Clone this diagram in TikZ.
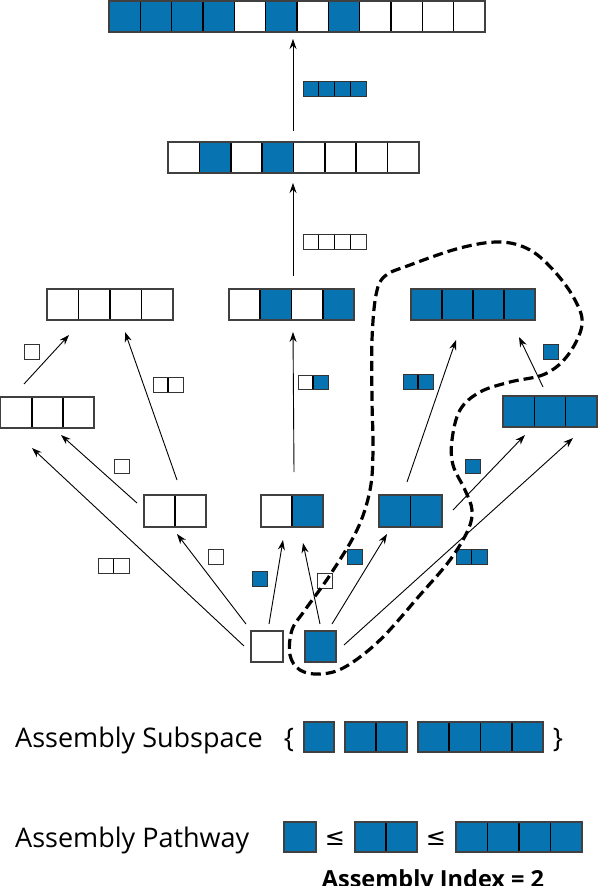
\documentclass[tikz,border=0pt]{standalone}
\usepackage{fontspec}
\setmainfont{Open Sans}
\newfontfamily\symfont{DejaVu Sans}
\usetikzlibrary{arrows.meta}
\definecolor{B}{RGB}{7,115,177}
\definecolor{W}{RGB}{255,255,255}
\tikzset{
  big/.style={draw=black!75, line width=1.3pt, inner sep=0pt, outer sep=0pt, anchor=north west},
  bigdiv/.style={draw=black, line width=1.6pt},
  small/.style={draw=black!80, line width=1pt, inner sep=0pt, outer sep=0pt, anchor=north west},
  smalldiv/.style={draw=black, line width=1.1pt},
  arr/.style={draw=black, line width=0.9pt, -{Stealth[length=10pt,width=7pt]}},
  loopline/.style={draw=black, line width=3.2pt, dash pattern=on 10pt off 5pt},
  lbl/.style={font=\fontsize{27}{30}\selectfont, inner sep=0pt, anchor=base west},
  sym/.style={font=\symfont\fontsize{24}{28}\selectfont, inner sep=0pt},
}
% #1 style, #2 name, #3 x, #4 y(top), #5 cell w, #6 cell h, #7 n, #8 colours
\newcommand\cellstrip[8]{%
  \foreach \c [count=\i from 0] in {#8}{%
    \fill[fill=\c] ({#3+\i*#5},#4) rectangle ++(#5,#6);
    \ifnum\i>0 \draw[#1div] ({#3+\i*#5},#4) -- ++(0,#6);\fi
  }%
  \node[#1, minimum width={#5*#7}, minimum height={#6}] (#2) at (#3,#4) {};
}
\begin{document}
\begin{tikzpicture}[x=1pt,y=-1pt]
\useasboundingbox[fill=white] (0,0) rectangle (598,886);

% main strips
\cellstrip{big}{top}{109}{1}{31.33}{31}{12}{B,B,B,B,W,B,W,B,W,W,W,W}
\cellstrip{big}{second}{168}{142}{31.37}{31}{8}{W,B,W,B,W,W,W,W}
\cellstrip{big}{lfour}{47}{289}{31.5}{31}{4}{W,W,W,W}
\cellstrip{big}{mfour}{229}{289}{31.25}{31}{4}{W,B,W,B}
\cellstrip{big}{rfour}{411}{289}{31}{31}{4}{B,B,B,B}
\cellstrip{big}{lthree}{0.7}{397}{31.1}{31}{3}{W,W,W}
\cellstrip{big}{rthree}{503}{396}{31.3}{31}{3}{B,B,B}
\cellstrip{big}{atwo}{144}{495}{31}{32}{2}{W,W}
\cellstrip{big}{btwo}{261}{495}{31}{32}{2}{W,B}
\cellstrip{big}{ctwo}{379}{495}{31.5}{32}{2}{B,B}
\cellstrip{big}{sw}{251}{631}{32}{31}{1}{W}
\cellstrip{big}{sb}{305}{631}{31}{31}{1}{B}

% small labels
\cellstrip{small}{la}{303}{81}{15.75}{15}{4}{B,B,B,B}
\cellstrip{small}{lb}{303}{234}{15.75}{15}{4}{W,W,W,W}
\cellstrip{small}{lc}{24}{344}{15}{15}{1}{W}
\cellstrip{small}{ld}{153}{377}{15}{15}{2}{W,W}
\cellstrip{small}{le}{298}{375}{15}{14}{2}{W,B}
\cellstrip{small}{lf}{403}{374}{15}{15}{2}{B,B}
\cellstrip{small}{lg}{543}{344}{15}{15}{1}{B}
\cellstrip{small}{lh}{114}{459}{15}{14}{1}{W}
\cellstrip{small}{li}{465}{459}{15}{14}{1}{B}
\cellstrip{small}{lj}{98}{558}{15.5}{15}{2}{W,W}
\cellstrip{small}{lk}{208}{549}{15}{15}{1}{W}
\cellstrip{small}{ll}{252}{571}{15}{15}{1}{B}
\cellstrip{small}{lm}{317}{573}{15}{15}{1}{W}
\cellstrip{small}{ln}{347}{549}{15}{15}{1}{B}
\cellstrip{small}{lo}{456}{549}{15.5}{15}{2}{B,B}

% arrow end points
\coordinate (a1s) at (293,131); \coordinate (a1e) at (293,39);
\coordinate (a2s) at (293,276); \coordinate (a2e) at (293,183);
\coordinate (a3s) at (24,384);  \coordinate (a3e) at (69,335);
\coordinate (a4s) at (177,480); \coordinate (a4e) at (125,332);
\coordinate (a5s) at (294,472); \coordinate (a5e) at (293,332);
\coordinate (a6s) at (407,482); \coordinate (a6e) at (456,340);
\coordinate (a7s) at (543,387); \coordinate (a7e) at (519,337);
\coordinate (a8s) at (137,503); \coordinate (a8e) at (61,435);
\coordinate (a9s) at (244,646); \coordinate (a9e) at (32,448);
\coordinate (a10s) at (246,624); \coordinate (a10e) at (177,534);
\coordinate (a11s) at (269,624); \coordinate (a11e) at (283,540);
\coordinate (a12s) at (320,624); \coordinate (a12e) at (303,543);
\coordinate (a13s) at (332,624); \coordinate (a13e) at (387,534);
\coordinate (a14s) at (344,645); \coordinate (a14e) at (573,438);
\coordinate (a15s) at (453,510); \coordinate (a15e) at (525,435);

\foreach \k in {1,...,15} \draw[arr] (a\k s) -- (a\k e);

% dashed loop
\draw[loopline] plot[smooth cycle, tension=0.6] coordinates {
 (292,630) (290,655) (300,670) (320,674) (345,667) (380,640) (420,595)
 (450,560) (468,530) (472,510) (465,490) (453,465) (452,440) (460,410)
 (480,392) (510,382) (545,374) (568,355) (582,325) (575,300) (555,272)
 (530,250) (500,242) (460,248) (410,265) (385,276) (376,295) (372,340)
 (372,400) (373,450) (370,490) (357,530) (330,575) (305,610)};

% bottom text
\node[lbl] (subtxt) at (15,747) {Assembly Subspace};
\node[lbl, anchor=base] (lbr) at (289,747) {\{};
\node[lbl, anchor=base] (rbr) at (558,747) {\}};
\cellstrip{big}{ss1}{304}{722}{30}{30}{1}{B}
\cellstrip{big}{ss2}{345}{722}{31}{30}{2}{B,B}
\cellstrip{big}{ss4}{418}{722}{31.25}{30}{4}{B,B,B,B}

\node[lbl] (pathtxt) at (15,847) {Assembly Pathway};
\cellstrip{big}{pp1}{284}{822}{32}{30}{1}{B}
\node[sym] (le1) at (335,839) {≤};
\cellstrip{big}{pp2}{355}{822}{31}{30}{2}{B,B}
\node[sym] (le2) at (436,839) {≤};
\cellstrip{big}{pp4}{456}{822}{31.5}{30}{4}{B,B,B,B}

\node[lbl, anchor=base, font=\bfseries\fontsize{23.5}{27}\selectfont] (idx) at (433,887) {Assembly Index = 2};
\end{tikzpicture}
\end{document}
